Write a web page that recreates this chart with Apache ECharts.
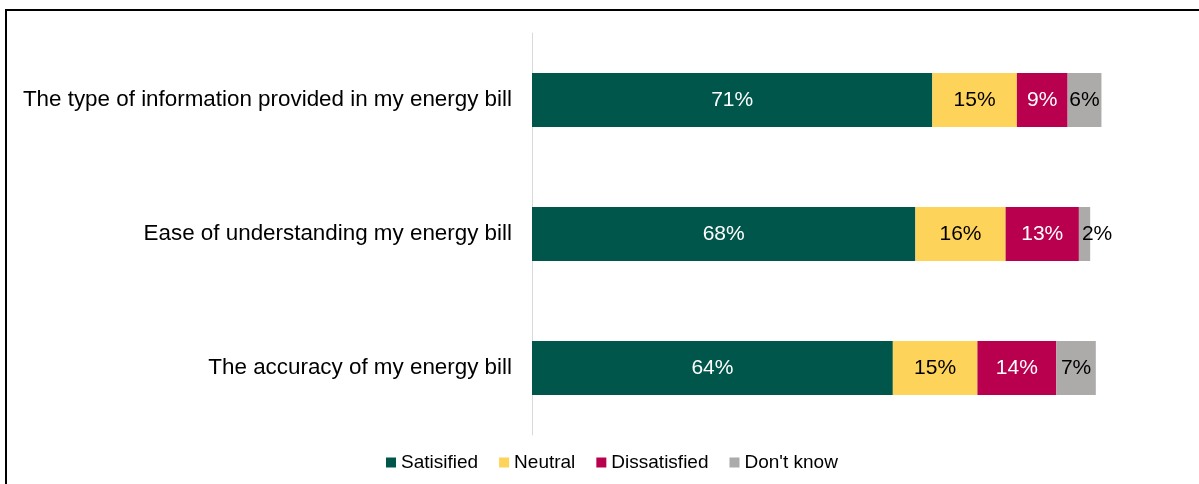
<!DOCTYPE html>
<html>
<head>
<meta charset="utf-8">
<script src="https://cdn.jsdelivr.net/npm/echarts@6/dist/echarts.min.js"></script>
<style>
  html, body { margin: 0; padding: 0; background: #fff; overflow: hidden; }
  #frame { position: absolute; left: 5px; top: 9px; width: 1400px; height: 700px; border: 2px solid #000; box-sizing: border-box; }
  #chart { position: absolute; left: 0; top: 0; width: 1199px; height: 484px; }
</style>
</head>
<body>
<div id="frame"></div>
<div id="chart"></div>
<script>
// Survey statements and response shares (%)
const categories = [
  'The type of information provided in my energy bill',
  'Ease of understanding my energy bill',
  'The accuracy of my energy bill'
];
const satisfied    = [71, 68, 64];
const neutral      = [15, 16, 15];
const dissatisfied = [9, 13, 14];
const dontKnow     = [6, 2, 7];

const seriesDefs = [
  { name: 'Satisified',   values: satisfied,    color: '#00564a', text: '#ffffff' },
  { name: 'Neutral',      values: neutral,      color: '#fed35a', text: '#000000' },
  { name: 'Dissatisfied', values: dissatisfied, color: '#b9004e', text: '#ffffff' },
  { name: "Don't know",   values: dontKnow,     color: '#adaaaa', text: '#000000' }
];

const chart = echarts.init(document.getElementById('chart'), null, { renderer: 'canvas' });

const series = seriesDefs.map(s => ({
  name: s.name,
  type: 'bar',
  stack: 'total',
  barWidth: 54,
  clip: false,
  itemStyle: { color: s.color },
  label: {
    show: true,
    position: 'inside',
    color: s.text,
    fontSize: 21,
    fontFamily: 'Liberation Sans, Arial, sans-serif',
    formatter: p => p.value + '%'
  },
  // very narrow segments get their label anchored at the segment start
  data: s.values.map(v => v < 4
    ? { value: v, label: { position: 'insideLeft', distance: 3 } }
    : v)
}));

chart.setOption({
  animation: false,
  backgroundColor: 'transparent',
  textStyle: { fontFamily: 'Liberation Sans, Arial, sans-serif' },
  grid: { left: 532, top: 33, height: 402, width: 592 },
  legend: {
    top: 448,
    left: 381,
    itemWidth: 10,
    itemHeight: 10,
    itemGap: 21,
    icon: 'rect',
    textStyle: { fontSize: 19, color: '#000' },
    data: seriesDefs.map(s => s.name)
  },
  xAxis: {
    type: 'value',
    min: 0,
    max: 105,
    show: false
  },
  yAxis: {
    type: 'category',
    inverse: true,
    data: categories,
    axisLine: { show: true, lineStyle: { color: '#d9d9d9', width: 1 } },
    axisTick: { show: false },
    axisLabel: {
      fontSize: 22.4,
      color: '#000',
      margin: 20,
      fontFamily: 'Liberation Sans, Arial, sans-serif'
    }
  },
  series
});
</script>
</body>
</html>
